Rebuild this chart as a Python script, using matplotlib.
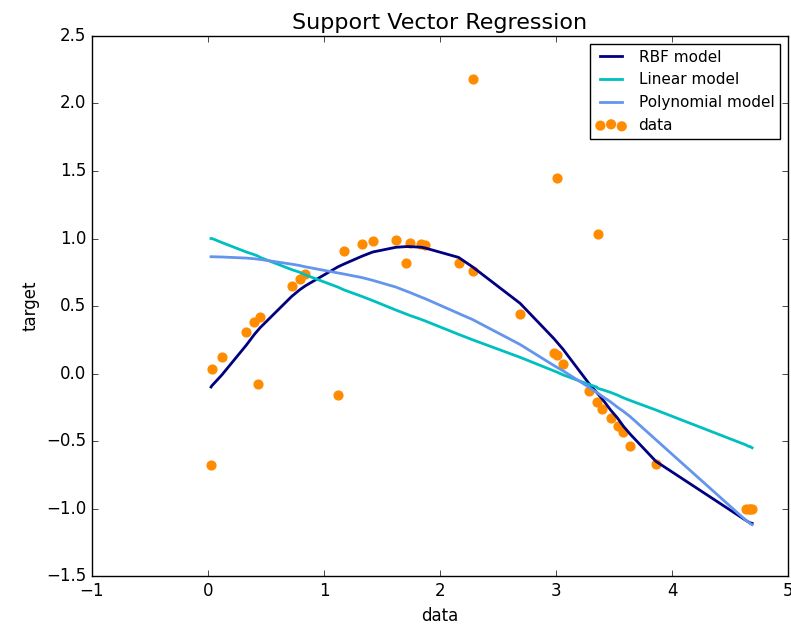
import matplotlib
matplotlib.use('Agg')
import matplotlib.pyplot as plt

plt.style.use('classic')

# sorted sample positions and noisy targets
x_data = [0.026, 0.034, 0.12, 0.33, 0.40, 0.43, 0.45, 0.72, 0.79, 0.84,
          1.12, 1.17, 1.33, 1.42, 1.62, 1.71, 1.74, 1.84, 1.87, 2.16,
          2.28, 2.28, 2.69, 2.98, 3.01, 3.01, 3.06, 3.28, 3.35, 3.36,
          3.40, 3.47, 3.53, 3.58, 3.64, 3.86, 4.64, 4.66, 4.67, 4.69]
y_data = [-0.676, 0.03, 0.12, 0.31, 0.38, -0.08, 0.42, 0.65, 0.70, 0.74,
          -0.16, 0.91, 0.96, 0.98, 0.99, 0.82, 0.97, 0.96, 0.95, 0.82,
          2.18, 0.76, 0.44, 0.15, 1.45, 0.14, 0.07, -0.13, -0.21, 1.03,
          -0.26, -0.33, -0.39, -0.43, -0.54, -0.67, -1.0, -1.0, -1.0, -1.0]

# model predictions at the sample positions
y_rbf = [-0.10, -0.09, -0.01, 0.21, 0.29, 0.32, 0.34, 0.57, 0.62, 0.65,
         0.79, 0.81, 0.87, 0.90, 0.935, 0.94, 0.94, 0.935, 0.93, 0.86,
         0.79, 0.79, 0.52, 0.26, 0.23, 0.23, 0.18, -0.07, -0.14, -0.15,
         -0.19, -0.27, -0.33, -0.39, -0.45, -0.65, -1.09, -1.10, -1.105, -1.11]
y_lin = [1.00, 1.00, 0.97, 0.90, 0.88, 0.87, 0.86, 0.77, 0.75, 0.73,
         0.64, 0.62, 0.57, 0.54, 0.47, 0.44, 0.43, 0.40, 0.39, 0.29,
         0.25, 0.25, 0.12, 0.02, 0.01, 0.01, -0.01, -0.08, -0.10, -0.11,
         -0.12, -0.14, -0.16, -0.18, -0.20, -0.27, -0.53, -0.54, -0.54, -0.55]
y_poly = [0.865, 0.865, 0.863, 0.855, 0.85, 0.847, 0.845, 0.81, 0.80, 0.79,
          0.745, 0.737, 0.71, 0.69, 0.64, 0.61, 0.60, 0.565, 0.555, 0.445,
          0.40, 0.40, 0.215, 0.06, 0.045, 0.045, 0.02, -0.10, -0.14, -0.145,
          -0.17, -0.21, -0.25, -0.28, -0.32, -0.49, -1.09, -1.10, -1.11, -1.12]

fig = plt.figure(figsize=(7.91, 6.27), dpi=100, facecolor='white')
ax = fig.add_axes([0.1163, 0.0813, 0.8800, 0.8613])

lw = 2
sc = ax.scatter(x_data, y_data, color='darkorange', label='data', s=40, zorder=1)
l1, = ax.plot(x_data, y_rbf, color='navy', lw=lw, label='RBF model')
l2, = ax.plot(x_data, y_lin, color='c', lw=lw, label='Linear model')
l3, = ax.plot(x_data, y_poly, color='cornflowerblue', lw=lw, label='Polynomial model')

ax.set_xlim(-1, 5)
ax.set_ylim(-1.5, 2.5)
ax.set_xlabel('data')
ax.set_ylabel('target')
ax.set_title('Support Vector Regression', fontsize=16)
ax.legend(handles=[l1, l2, l3, sc], fontsize=11)

fig.savefig('out.png', dpi=100, facecolor='white')
